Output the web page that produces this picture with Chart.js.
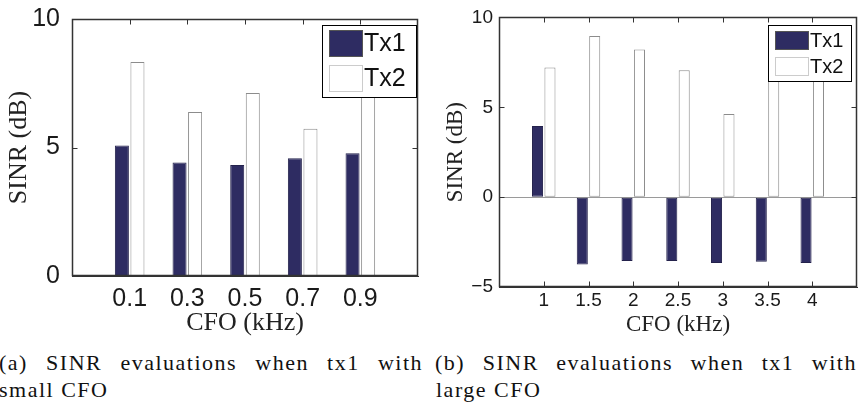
<!DOCTYPE html>
<html>
<head>
<meta charset="utf-8">
<script src="https://cdn.jsdelivr.net/npm/chart.js@4"></script>
<style>
  body { margin: 0; background: #fff; width: 865px; height: 405px; overflow: hidden; position: relative; }
  canvas { position: absolute; top: 0; }
  #small { left: 0; }
  #large { left: 430px; }
  .cap { position: absolute; font-family: "Liberation Serif", serif; font-size: 22px; line-height: 27px; letter-spacing: 1.5px; color: #111; white-space: nowrap; }
  .just { text-align: justify; text-align-last: justify; }
</style>
</head>
<body>
<canvas id="small" width="430" height="342"></canvas>
<canvas id="large" width="435" height="342"></canvas>
<div class="cap just" style="left:-1px;top:349px;width:424px">(a) SINR evaluations when tx1 with</div>
<div class="cap" style="left:-1px;top:376px">small CFO</div>
<div class="cap just" style="left:435px;top:349px;width:422px">(b) SINR evaluations when tx1 with</div>
<div class="cap" style="left:436px;top:376px">large CFO</div>
<script>
const seriesNames = ["Tx1", "Tx2"];

const cfoSmall = [0.1, 0.3, 0.5, 0.7, 0.9];
const cfoSmallLabels = ["0.1", "0.3", "0.5", "0.7", "0.9"];
const tx1Small = [5.08, 4.42, 4.32, 4.58, 4.78];
const tx2Small = [8.33, 6.38, 7.12, 5.73, 7.3];

const cfoLarge = [1, 1.5, 2, 2.5, 3, 3.5, 4];
const cfoLargeLabels = ["1", "1.5", "2", "2.5", "3", "3.5", "4"];
const tx1Large = [3.96, -3.75, -3.55, -3.55, -3.66, -3.6, -3.66];
const tx2Large = [7.21, 8.96, 8.22, 7.06, 4.62, 7.2, 7.0];

const navy = "#2e2c62";
const frameColor = "#333";

// box around the axes, inward ticks and the legend drawn inside the plot
const framePlugin = {
  id: "frame",
  afterDraw(chart, args, opts) {
    const ctx = chart.ctx;
    const x = chart.scales.x;
    const y = chart.scales.y;
    const l = Math.round(x.left) + 0.5, r = Math.round(x.right) - 0.5;
    const t = Math.round(y.top) + 0.5, b = Math.round(y.bottom) - 0.5;
    ctx.save();
    ctx.lineWidth = 1.5;
    ctx.strokeStyle = frameColor;
    ctx.beginPath();
    ctx.moveTo(l, t); ctx.lineTo(r, t); ctx.lineTo(r, b); ctx.lineTo(l, b); ctx.closePath();
    ctx.stroke();
    ctx.lineWidth = 1;
    ctx.beginPath();
    y.ticks.forEach(tk => {
      const py = Math.round(y.getPixelForValue(tk.value)) + 0.5;
      ctx.moveTo(l, py); ctx.lineTo(l + 5, py);
      ctx.moveTo(r, py); ctx.lineTo(r - 5, py);
    });
    x.ticks.forEach(tk => {
      const px = Math.round(x.getPixelForValue(tk.value)) + 0.5;
      ctx.moveTo(px, t); ctx.lineTo(px, t + 5);
      if (opts.bottomTicks) { ctx.moveTo(px, b); ctx.lineTo(px, b - 5); }
    });
    ctx.stroke();

    const L = opts.legend;
    const lx = Math.round(r - L.right - L.w);
    const ly = Math.round(t + L.top);
    ctx.fillStyle = "#fff";
    ctx.fillRect(lx, ly, L.w, L.h);
    ctx.strokeStyle = "#000";
    ctx.strokeRect(lx + 0.5, ly + 0.5, L.w, L.h);
    ctx.font = L.size + "px 'Liberation Sans', Arial, sans-serif";
    ctx.textBaseline = "middle";
    ctx.textAlign = "left";
    chart.data.datasets.forEach((ds, i) => {
      const sy = Math.round(ly + L.first + i * L.step);
      ctx.fillStyle = ds.backgroundColor;
      ctx.fillRect(lx + L.sx, sy, L.sw, L.sh);
      ctx.strokeStyle = i === 0 ? "#555" : "#ccc";
      ctx.strokeRect(lx + L.sx + 0.5, sy + 0.5, L.sw, L.sh);
      ctx.fillStyle = "#111";
      ctx.fillText(ds.label, lx + L.sx + L.sw + 2, sy + L.sh / 2 + 1);
    });
    ctx.restore();
  }
};

function barSets(d1, d2) {
  return [
    { label: seriesNames[0], data: d1, backgroundColor: navy, borderColor: "#24224c", borderWidth: 1, borderSkipped: false },
    { label: seriesNames[1], data: d2, backgroundColor: "#ffffff", borderColor: "#8c8c8c", borderWidth: 1, borderSkipped: false }
  ];
}

const minus = v => String(v).replace("-", "\u2212");

const smallConfig = {
  type: "bar",
  data: { labels: cfoSmall, datasets: barSets(tx1Small, tx2Small) },
  options: {
    responsive: false,
    animation: false,
    layout: { padding: { top: 16, right: 12, left: 0, bottom: 0 } },
    datasets: { bar: { categoryPercentage: 0.54, barPercentage: 0.9 } },
    plugins: {
      legend: { display: false },
      tooltip: { enabled: false },
      frame: { bottomTicks: false, legend: { right: 2, top: 5, w: 94, h: 72, sx: 7, sw: 33, sh: 26, first: 5, step: 34.5, size: 25 } }
    },
    scales: {
      x: {
        type: "linear", min: -0.1, max: 1.1, offset: false,
        grid: { display: false }, border: { display: true, color: frameColor, width: 1 },
        afterBuildTicks: s => { s.ticks = cfoSmall.map(v => ({ value: v })); },
        afterFit: s => { s.height = 66; },
        ticks: { callback: (v, i) => cfoSmallLabels[i], autoSkip: false, maxRotation: 0, padding: 0, color: "#1a1a1a", font: { family: "Liberation Sans", size: 25 } },
        title: { display: true, text: "CFO (kHz)", color: "#222", padding: { top: 0, bottom: 3 }, font: { family: "Liberation Serif", size: 26 } }
      },
      y: {
        min: 0, max: 10,
        grid: { display: false }, border: { display: true, color: frameColor, width: 1 },
        afterFit: s => { s.width = 72; },
        ticks: { stepSize: 5, padding: 4, color: "#1a1a1a", font: { family: "Liberation Sans", size: 25 } },
        title: { display: true, text: "SINR (dB)", color: "#222", padding: { top: 4, bottom: 0 }, font: { family: "Liberation Serif", size: 26 } }
      }
    }
  },
  plugins: [framePlugin]
};

const largeConfig = {
  type: "bar",
  data: { labels: cfoLarge, datasets: barSets(tx1Large, tx2Large) },
  options: {
    responsive: false,
    animation: false,
    layout: { padding: { top: 16, right: 8, left: 0, bottom: 0 } },
    datasets: { bar: { categoryPercentage: 0.555, barPercentage: 0.89 } },
    plugins: {
      legend: { display: false },
      tooltip: { enabled: false },
      frame: { bottomTicks: true, legend: { right: 6, top: 7, w: 83, h: 56, sx: 7, sw: 33, sh: 18, first: 6, step: 26, size: 20 } }
    },
    scales: {
      x: {
        type: "linear", min: 0.5, max: 4.5, offset: false,
        grid: { display: false }, border: { display: true, color: frameColor, width: 1 },
        afterBuildTicks: s => { s.ticks = cfoLarge.map(v => ({ value: v })); },
        afterFit: s => { s.height = 55; },
        ticks: { callback: (v, i) => cfoLargeLabels[i], autoSkip: false, maxRotation: 0, padding: -6, color: "#1a1a1a", font: { family: "Liberation Sans", size: 19 } },
        title: { display: true, text: "CFO (kHz)", color: "#222", padding: { top: 0, bottom: 3 }, font: { family: "Liberation Serif", size: 23 } }
      },
      y: {
        min: -5, max: 10,
        grid: { color: c => (c.tick && c.tick.value === 0 ? "#9a9a9a" : "rgba(0,0,0,0)"), drawTicks: false },
        border: { display: true, color: frameColor, width: 1 },
        afterFit: s => { s.width = 69; },
        ticks: { stepSize: 5, padding: 6, callback: v => minus(v), color: "#1a1a1a", font: { family: "Liberation Sans", size: 19 } },
        title: { display: true, text: "SINR (dB)", color: "#222", padding: { top: 12, bottom: 0 }, font: { family: "Liberation Serif", size: 23 } }
      }
    }
  },
  plugins: [framePlugin]
};

new Chart(document.getElementById("small"), smallConfig);
new Chart(document.getElementById("large"), largeConfig);
</script>
</body>
</html>
